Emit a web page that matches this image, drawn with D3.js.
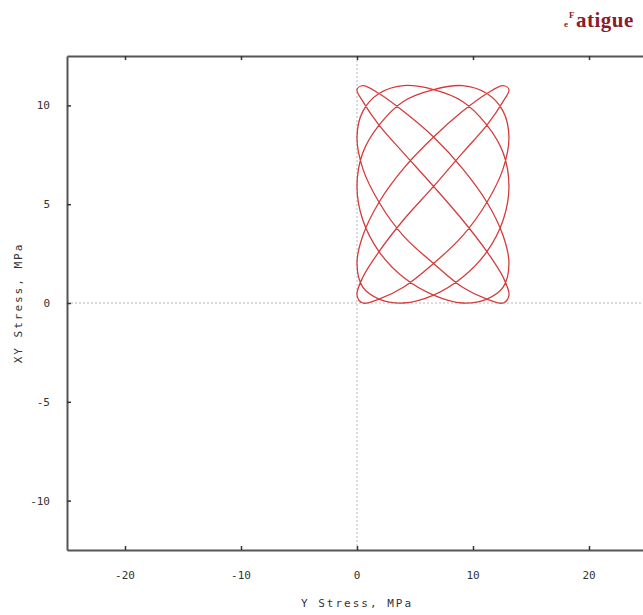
<!DOCTYPE html>
<html>
<head>
<meta charset="utf-8">
<script src="https://cdn.jsdelivr.net/npm/d3@7"></script>
<style>
  html, body { margin: 0; padding: 0; background: #fff; }
  svg { display: block; }
  .tick-label { font-family: "DejaVu Sans Mono", monospace; font-size: 11px; fill: #333; }
  .axis-title { font-family: "DejaVu Sans Mono", monospace; font-size: 11px; fill: #333; letter-spacing: 2px; }
</style>
</head>
<body>
<svg id="chart" width="643" height="615"></svg>
<script>
// Axis tick values
const xTicks = [-20, -10, 0, 10, 20];
const yTicks = [-10, -5, 0, 5, 10];

// Load path: Y stress (MPa), in traversal order
const stressY = [
  0.0, 0.5, 1.9, 4.0, 6.6, 9.1, 11.2, 12.6, 13.1, 12.6, 11.2, 9.1, 6.6, 4.0, 1.9, 0.5,
  0.0, 0.5, 1.9, 4.0, 6.6, 9.1, 11.2, 12.6, 13.1, 12.6, 11.2, 9.1, 6.6, 4.0, 1.9, 0.5,
  0.0, 0.5, 1.9, 4.0, 6.6, 9.1, 11.2, 12.6, 13.1, 12.6, 11.2, 9.1, 6.6, 4.0, 1.9, 0.5,
  0.0, 0.5, 1.9, 4.0, 6.6, 9.1, 11.2, 12.6, 13.1, 12.6, 11.2, 9.1, 6.6, 4.0, 1.9, 0.5,
  0.0, 0.5, 1.9, 4.0, 6.6, 9.1, 11.2, 12.6, 13.1, 12.6, 11.2, 9.1, 6.6, 4.0, 1.9, 0.5
];
// Load path: XY shear stress (MPa), same points
const stressXY = [
  5.9, 4.2, 2.6, 1.3, 0.4, 0.0, 0.2, 0.8, 2.0, 3.4, 5.1, 6.8, 8.4, 9.7, 10.6, 11.0, 10.8, 10.2, 9.0, 7.6,
  5.9, 4.2, 2.6, 1.3, 0.4, 0.0, 0.2, 0.8, 2.0, 3.4, 5.1, 6.8, 8.4, 9.7, 10.6, 11.0, 10.8, 10.2, 9.0, 7.6,
  5.9, 4.2, 2.6, 1.3, 0.4, 0.0, 0.2, 0.8, 2.0, 3.4, 5.1, 6.8, 8.4, 9.7, 10.6, 11.0, 10.8, 10.2, 9.0, 7.6,
  5.9, 4.2, 2.6, 1.3, 0.4, 0.0, 0.2, 0.8, 2.0, 3.4, 5.1, 6.8, 8.4, 9.7, 10.6, 11.0, 10.8, 10.2, 9.0, 7.6
];

const svg = d3.select("#chart");
const plot = { left: 67, right: 647, top: 56, bottom: 550 };

const x = d3.scaleLinear().domain([-25, 25]).range([plot.left, plot.right]);
const y = d3.scaleLinear().domain([-12.5, 12.5]).range([plot.bottom, plot.top]);

// Zero reference lines (dotted)
svg.append("line")
  .attr("x1", plot.left).attr("x2", plot.right)
  .attr("y1", y(0)).attr("y2", y(0))
  .attr("stroke", "#b8b8b8").attr("stroke-width", 1).attr("stroke-dasharray", "2,2");
svg.append("line")
  .attr("x1", x(0)).attr("x2", x(0))
  .attr("y1", plot.top).attr("y2", plot.bottom)
  .attr("stroke", "#b8b8b8").attr("stroke-width", 1).attr("stroke-dasharray", "2,2");

// Frame with inward ticks on all four sides
const frame = svg.append("g");
frame.append("g").attr("transform", `translate(0,${plot.bottom})`)
  .call(d3.axisBottom(x).tickValues(xTicks).tickSizeInner(-4).tickSizeOuter(0).tickFormat(""));
frame.append("g").attr("transform", `translate(0,${plot.top})`)
  .call(d3.axisTop(x).tickValues(xTicks).tickSizeInner(-4).tickSizeOuter(0).tickFormat(""));
frame.append("g").attr("transform", `translate(${plot.left},0)`)
  .call(d3.axisLeft(y).tickValues(yTicks).tickSizeInner(-4).tickSizeOuter(0).tickFormat(""));
frame.append("g").attr("transform", `translate(${plot.right},0)`)
  .call(d3.axisRight(y).tickValues(yTicks).tickSizeInner(-4).tickSizeOuter(0).tickFormat(""));
frame.selectAll(".domain").attr("stroke", "#555").attr("stroke-width", 2);
frame.selectAll(".tick line").attr("stroke", "#333").attr("stroke-width", 1.5);

// Tick labels
svg.append("g").selectAll("text").data(xTicks).join("text")
  .attr("class", "tick-label")
  .attr("x", d => x(d)).attr("y", 579)
  .attr("text-anchor", "middle")
  .text(d => d);
svg.append("g").selectAll("text").data(yTicks).join("text")
  .attr("class", "tick-label")
  .attr("x", 50).attr("y", d => y(d) + 4)
  .attr("text-anchor", "end")
  .text(d => d);

// Axis titles
svg.append("text").attr("class", "axis-title")
  .attr("x", x(0)).attr("y", 607).attr("text-anchor", "middle")
  .text("Y Stress, MPa");
svg.append("text").attr("class", "axis-title")
  .attr("transform", `translate(22,${y(0)}) rotate(-90)`)
  .attr("text-anchor", "middle")
  .text("XY Stress, MPa");

// Stress path
const pts = stressY.map((v, i) => [v, stressXY[i]]);
svg.append("path")
  .datum(pts)
  .attr("fill", "none")
  .attr("stroke", "#d63b3b")
  .attr("stroke-width", 1.3)
  .attr("d", d3.line().x(d => x(d[0])).y(d => y(d[1])).curve(d3.curveCatmullRomClosed));

// Brand mark
const brand = svg.append("g")
  .attr("font-family", "'Liberation Serif', 'DejaVu Serif', serif")
  .attr("font-weight", "bold")
  .attr("fill", "#8a1c2c");
brand.append("text").attr("x", 569).attr("y", 18).attr("font-size", 9).text("F");
brand.append("text").attr("x", 564).attr("y", 27).attr("font-size", 9).text("e");
brand.append("text").attr("x", 576).attr("y", 27).attr("font-size", 21).attr("letter-spacing", 0.5).text("atigue");
</script>
</body>
</html>
